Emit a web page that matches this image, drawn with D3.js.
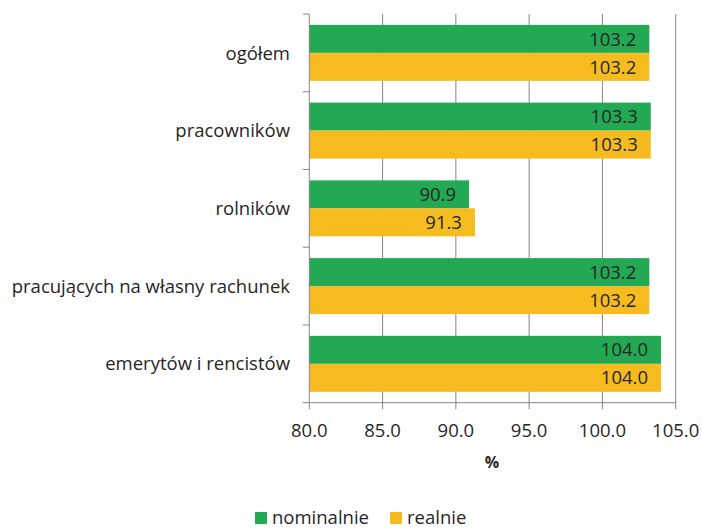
<!DOCTYPE html>
<html><head><meta charset="utf-8">
<script src="https://cdn.jsdelivr.net/npm/d3@7"></script>
<style>body{margin:0;background:#fff}svg{display:block}text{font-family:"Open Sans",sans-serif;fill:#262626}</style>
</head><body>
<svg id="c" width="702" height="529"></svg>
<script>
const categories = ["ogółem","pracowników","rolników","pracujących na własny rachunek","emerytów i rencistów"];
const nominalnie = [103.2,103.3,90.9,103.2,104.0];
const realnie = [103.2,103.3,91.3,103.2,104.0];
const seriesNames = ["nominalnie","realnie"];
const colors = ["#23A853","#F6BB1E"];
const xTicks = [80,85,90,95,100,105];

const svg = d3.select("#c");
const L=309.3, R=675.7, T=14, B=402.7;
const FS=18.5;
const x = d3.scaleLinear().domain([80,105]).range([L,R]);
const y = d3.scaleBand().domain(categories).range([T,B]).paddingInner(0.28).paddingOuter(0.14);
const ys = d3.scaleBand().domain(seriesNames).range([0,y.bandwidth()]);

svg.append("g").selectAll("line").data(xTicks.slice(1)).join("line")
  .attr("x1",d=>x(d)).attr("x2",d=>x(d)).attr("y1",T).attr("y2",B)
  .attr("stroke","#868686").attr("stroke-width",1);

const data = categories.map((c,i)=>({c, vals:[nominalnie[i],realnie[i]]}));
const g = svg.append("g");
data.forEach(d=>{
  d.vals.forEach((v,j)=>{
    g.append("rect").attr("x",x(80)).attr("y",y(d.c)+ys(seriesNames[j]))
      .attr("width",x(v)-x(80)).attr("height",ys.bandwidth()).attr("fill",colors[j]);
    g.append("text").attr("x",x(v)-13).attr("y",y(d.c)+ys(seriesNames[j])+ys.bandwidth()/2)
      .attr("dy","0.36em").attr("text-anchor","end").attr("font-size",FS).text(v.toFixed(1));
  });
});

svg.append("line").attr("x1",L).attr("x2",L).attr("y1",T).attr("y2",B).attr("stroke","#868686");
const catTicks = d3.range(categories.length+1).map(i=>T+i*(B-T)/categories.length);
svg.append("g").selectAll("line").data(catTicks).join("line")
  .attr("x1",L-6.5).attr("x2",L).attr("y1",d=>d).attr("y2",d=>d).attr("stroke","#868686");
svg.append("g").selectAll("text").data(categories).join("text")
  .attr("x",290).attr("y",d=>y(d)+y.bandwidth()/2).attr("dy","0.36em")
  .attr("text-anchor","end").attr("font-size",FS).text(d=>d);

svg.append("line").attr("x1",L).attr("x2",R).attr("y1",B).attr("y2",B).attr("stroke","#868686");
svg.append("g").selectAll("line").data(xTicks).join("line")
  .attr("x1",d=>x(d)).attr("x2",d=>x(d)).attr("y1",B).attr("y2",B+6.5).attr("stroke","#868686");
svg.append("g").selectAll("text").data(xTicks).join("text")
  .attr("x",d=>x(d)).attr("y",430).attr("dy","0.36em").attr("text-anchor","middle")
  .attr("font-size",FS).text(d=>d.toFixed(1));
svg.append("text").attr("x",492).attr("y",462).attr("dy","0.36em").attr("text-anchor","middle")
  .attr("font-size",16).attr("font-weight","bold").text("%");

const lg = svg.append("g");
const legX = [255,390];
seriesNames.forEach((s,i)=>{
  lg.append("rect").attr("x",legX[i]).attr("y",512).attr("width",12).attr("height",12).attr("fill",colors[i]);
  lg.append("text").attr("x",legX[i]+17).attr("y",517).attr("dy","0.36em").attr("font-size",FS).text(s);
});
</script>
</body></html>
